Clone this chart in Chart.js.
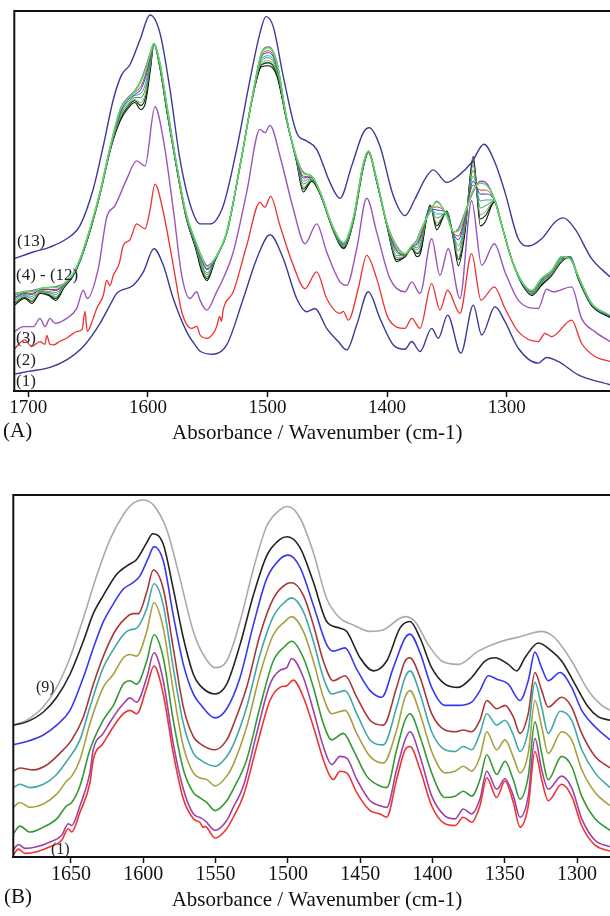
<!DOCTYPE html>
<html><head><meta charset="utf-8">
<script src="https://cdn.jsdelivr.net/npm/chart.js@4/dist/chart.umd.min.js"></script>
<style>
html,body{margin:0;padding:0;background:#fff;overflow:hidden;width:610px;height:916px;position:relative;}
#wa{position:absolute;left:0;top:0;}
#wb{position:absolute;left:0;top:465px;}
</style></head><body>
<div id="wa"><canvas id="ca" width="640" height="450"></canvas></div>
<div id="wb"><canvas id="cb" width="640" height="451"></canvas></div>
<script>
// ---------- Panel A (absorbance in arbitrary units x100, vs wavenumber cm-1) ----------
const TICKS_A = [1700, 1600, 1500, 1400, 1300];
const A1 = [[1711.7,17],[1700,19.7],[1681.9,23.7],[1667.9,31.3],[1654,44.7],[1640,68],[1631.7,86.3],[1626.1,98],[1612.2,106.3],[1603.8,119.7],[1594.9,143],[1587.1,126.3],[1578.8,93],[1567.6,59.7],[1559.2,44],[1556.4,40],[1545.3,37],[1534.1,46.3],[1520.2,93],[1509,133],[1497.9,157],[1486.8,133],[1475.6,93],[1467.2,79.7],[1460.3,83],[1450.5,63],[1440.8,49.7],[1433.8,41.3],[1425.4,66.3],[1415.7,99.7],[1406,73],[1394.8,46.3],[1385,42],[1379.4,49.7],[1372.5,39.7],[1362.7,63],[1357.2,53],[1349.4,76.3],[1338.3,38],[1327.9,86.3],[1320.9,56.3],[1309.8,84.7],[1301.4,69.7],[1290.3,43],[1273.6,28],[1266.6,33.7],[1256.9,29.7],[1240.2,16.3],[1213.6,6.3]];
const A2 = [[1711.7,42.3],[1702.8,51.3],[1697.2,44.7],[1690.2,49.7],[1686,47],[1684.6,56],[1681.9,47],[1679.1,46.3],[1673.5,50],[1667.9,53],[1659.5,59.7],[1655,62],[1652.6,80],[1650.7,60],[1646,72],[1642.8,83],[1637.3,96],[1634.4,111.3],[1631.7,106],[1628.9,116.3],[1624,128],[1620.6,146.3],[1615,152],[1609.4,168],[1602.4,163],[1598.2,182],[1594.1,208],[1587.1,179.7],[1578.8,126.3],[1571.7,79.7],[1563.4,63],[1559,65],[1556.4,56.3],[1550.8,53],[1545.3,58],[1542.5,64.7],[1540,75],[1538.5,70],[1537,82],[1528.6,99.7],[1517.4,146.3],[1506.3,189.7],[1502.1,184.7],[1497.4,195.7],[1489.6,166.3],[1478.4,126.3],[1468.6,103],[1458.9,119.7],[1450.5,93],[1439.4,78],[1436.6,80],[1432.4,71.3],[1424.1,103],[1417,136.3],[1408.7,113],[1399,73],[1385,63],[1379.4,73],[1372.5,63],[1362.7,108],[1355.8,81.3],[1349.4,101.3],[1339.1,78],[1329.3,138],[1321.5,91.3],[1310.4,104.7],[1301.4,83],[1290.3,59.7],[1273.6,49.7],[1268,58],[1262.4,54.7],[1245.7,71.3],[1237.4,48],[1226.3,34.7],[1213.6,29.7]];
const A3 = [[1711.7,59.7],[1704.2,64.7],[1695.8,64.7],[1690.2,73],[1686,64.7],[1681.9,73],[1677.7,68],[1667.9,73],[1659.5,83],[1654,101.3],[1650.7,93],[1641.5,123],[1634.4,174.7],[1627.5,186.3],[1617.7,213],[1609.4,231.3],[1602.4,226.3],[1594.1,285.7],[1587.1,253],[1578.8,183],[1571.7,116.3],[1564.8,93],[1559.2,99.7],[1556.4,91.3],[1550.8,81.3],[1542.5,99.7],[1537,113],[1528.6,139.7],[1517.4,199.7],[1506.3,263],[1502.1,259.7],[1497.9,267],[1489.6,236.3],[1478.4,183],[1468.6,148],[1458.9,168],[1450.5,139.7],[1439.4,109.7],[1433.8,106.3],[1425.4,143],[1417,193.7],[1408.7,159.7],[1397.6,113],[1385,99.7],[1379.4,109.7],[1372.5,98],[1362.7,153],[1355.8,116.3],[1348.9,143],[1339.1,93],[1329.3,191.3],[1320.9,126.3],[1310.4,148],[1301.4,119.7],[1290.3,91.3],[1273.6,83],[1266.6,102.3],[1261,99.7],[1245.7,104.7],[1237.4,73],[1226.3,59.7],[1213.6,49.7]];
const A13 = [[1711.7,133],[1695.8,139.7],[1681.9,144.7],[1667.9,153],[1656.8,166.3],[1645.7,203],[1637.3,246.3],[1628.9,293],[1621.9,318],[1615,328],[1606.6,353],[1598.2,378],[1589.9,359.7],[1581.5,303],[1573.2,233],[1564.8,188],[1556.4,168],[1548.1,168],[1537,186.3],[1525.8,243],[1514.6,313],[1506.3,359.7],[1501.3,376.3],[1495.2,366.3],[1486.8,316.3],[1475.6,259.7],[1467.2,251.3],[1458.9,243],[1447.8,209.7],[1439.4,193.7],[1429.6,226.3],[1419.9,259.7],[1414.9,264.7],[1406,246.3],[1394.8,196.3],[1385,176.3],[1376.7,193],[1368.3,213],[1361.4,222.3],[1350.2,209.7],[1340.5,216.3],[1329.3,229.7],[1319,248],[1309.8,229.7],[1301.4,199.7],[1290.3,153],[1281.9,145.7],[1270.8,153],[1259.7,169.7],[1252.7,174],[1242.9,163],[1229,133],[1213.6,114.7]];
// bundle (4)-(12), shared wavenumber grid
const WN_BUNDLE = [1711.7,1703,1697,1690,1683,1677,1670,1663,1656,1648,1640,1631,1623,1616,1611,1606,1602,1598,1595,1590,1584,1576,1568,1560,1555,1550.5,1544,1534,1523,1512,1505,1499,1492,1484,1476,1470,1463,1456,1445,1436.5,1428,1420,1415.6,1409,1400,1392,1385,1379.4,1375,1372.5,1364,1358.5,1350,1344.6,1340.4,1334.8,1328,1322,1318,1310.3,1304,1296,1287.4,1279,1271,1262.4,1254,1247,1240,1229,1213.6];
const A4  = [98,100,101,103,104,105,108,117,135,165,200,248,284,296,302,312,325,340,349,330,286,228,178,150,135,126,133,160,226,300,340,346,330,274,236,220,216,200,164,149,175,228,241,214,168,146,138,146,152,160,180,191,176,160,163,180,200,211,210,193,166,133,110,101,113,121,135,133,115,88,76];
const A5  = [97,100,100,103,104,104,108,117,135,165,200,248,283,295,301,311,323,339,349,330,286,228,178,150,134,125,133,160,226,300,339,345,329,274,236,219,216,200,164,149,175,228,241,214,168,145,138,146,151,159,181,190,176,160,161,179,202,209,208,193,166,133,110,101,113,121,135,133,115,88,76];
const A6  = [96,99,98,102,102,102,107,117,135,164,200,247,282,294,300,306,318,336,349,329,285,227,177,149,132,123,133,160,226,300,337,342,327,274,235,216,215,200,163,148,174,227,241,214,167,143,137,145,149,155,182,185,177,159,156,176,207,202,202,192,166,133,110,100,112,120,134,133,114,88,76];
const A7  = [94,98,97,102,102,101,107,116,134,164,199,247,280,293,298,303,315,335,349,329,284,227,177,148,131,122,132,160,226,299,336,340,326,273,235,214,215,199,163,147,174,227,241,213,167,141,137,145,147,153,183,182,178,158,152,174,211,198,198,192,166,133,109,100,111,120,134,134,114,87,75];
const A8  = [93,97,95,101,100,99,106,116,134,164,199,246,279,291,297,299,309,332,349,328,283,226,176,147,128,119,132,160,226,299,334,337,324,273,234,211,214,199,163,146,173,226,241,213,167,139,137,145,144,150,184,178,178,157,146,171,216,191,192,192,166,133,109,99,110,119,133,134,114,87,75];
const A9  = [91,96,93,100,99,97,106,116,134,163,199,246,277,289,295,295,304,329,349,327,282,226,176,146,126,117,132,159,226,299,332,335,322,273,234,208,213,199,162,145,173,226,240,213,166,136,136,144,142,146,184,174,179,156,141,168,222,184,186,191,166,133,109,98,109,118,132,134,113,87,75];
const A10 = [89,95,91,99,98,95,105,116,133,163,198,245,275,288,293,290,299,327,349,326,282,225,175,145,124,115,132,159,226,299,330,332,320,273,233,205,212,199,162,145,172,225,240,213,166,134,136,144,139,143,185,169,180,155,135,165,227,177,180,191,166,133,109,97,108,117,131,135,113,87,75];
const A11 = [88,94,90,99,97,93,105,115,133,163,198,245,274,287,292,287,295,325,349,326,281,225,175,144,122,113,131,159,226,298,328,330,318,272,233,203,212,198,162,144,172,225,240,212,166,132,135,144,138,140,186,166,180,154,132,163,231,173,176,190,166,133,108,97,107,117,131,135,113,86,74];
const A12 = [86,93,88,98,96,91,104,115,133,162,198,244,272,285,290,283,290,322,349,325,280,224,174,143,120,111,131,159,226,298,326,327,316,272,232,200,211,198,161,143,171,224,240,212,165,130,135,143,135,137,187,162,181,153,126,160,236,166,170,190,166,133,108,96,106,116,130,135,112,86,74];

// ---------- Panel B ----------
const TICKS_B = [1650, 1600, 1550, 1500, 1450, 1400, 1350, 1300];
const B1 = [[1689.9,2],[1686.4,8],[1681.8,3.7],[1673.7,5.3],[1664.5,10.3],[1656.4,17],[1651.9,28.7],[1649.5,25.3],[1643.8,45.3],[1636.9,75.3],[1634.6,98.7],[1627.7,115.3],[1620.7,132],[1613.8,145.3],[1609.2,148.7],[1604.6,145.3],[1597.6,172],[1592.6,193.7],[1586.2,165.3],[1579.3,105.3],[1572.3,58.7],[1565.4,38.7],[1560.8,35],[1558.5,30],[1557.3,31],[1550.4,19.3],[1542.3,28.7],[1537.8,40.3],[1530.8,62],[1521.6,112],[1512.4,158.7],[1505.5,172],[1500.8,173.7],[1496.3,179.3],[1489.3,162],[1482.4,132],[1475.5,98.7],[1470.9,82],[1468.6,78.7],[1464,87],[1459.3,85.3],[1452.4,65.3],[1443.2,47],[1436.3,43.7],[1431.7,40.3],[1424.8,78.7],[1419,108.7],[1415.6,112],[1408.6,88.7],[1400.6,52],[1391.4,33.7],[1384.4,32],[1378.7,40.3],[1372.9,35.3],[1367.2,52],[1362.5,80.3],[1355.6,60.3],[1349.9,77],[1344.1,55.3],[1339.5,30.3],[1333.8,51.7],[1329.2,107],[1324.5,78.3],[1320,57],[1310.7,73.7],[1303.8,61.7],[1296.8,31.7],[1287.6,12],[1277.3,6]];
const B2 = [[1689.9,7],[1686.4,12.7],[1681.8,8.7],[1673.7,10.3],[1664.5,15.3],[1656.4,22],[1651.9,33.7],[1649.5,32],[1643.8,52],[1636.9,85.3],[1634.6,108.7],[1627.7,125.3],[1620.7,142],[1613.8,155.3],[1609.2,161.3],[1604.6,157],[1597.6,182],[1592.6,207],[1586.2,178.7],[1579.3,115.3],[1572.3,68.7],[1565.4,43.7],[1560.8,40],[1557.3,37],[1550.4,27],[1542.3,37],[1537.8,50.3],[1530.8,72],[1521.6,125.3],[1512.4,175.3],[1505.5,189.3],[1500.8,192],[1497.4,201.3],[1489.3,182],[1482.4,148.7],[1475.5,112],[1469.7,93.7],[1464,102],[1459.3,100.3],[1452.4,78.7],[1443.2,57],[1436.3,52],[1431.7,50.3],[1424.8,88.7],[1419,118.7],[1415.6,127],[1408.6,102],[1400.6,62],[1391.4,41.7],[1384.4,38.7],[1378.7,48.7],[1372.9,43.7],[1367.2,58.7],[1362.5,87],[1355.6,68.7],[1349.9,79.3],[1344.1,62],[1339.5,40.3],[1333.8,61.7],[1329.2,120.3],[1324.5,88.3],[1320,68.7],[1310.7,82],[1303.8,70.3],[1296.8,38.7],[1287.6,17],[1277.3,10.3]];
const B3 = [[1689.9,23.7],[1685.3,31.3],[1678.4,25.3],[1669.1,30.3],[1659.9,38.7],[1653,52],[1649.5,55.3],[1643.8,72],[1636.9,108.7],[1627.7,138.7],[1620.7,153.7],[1613.8,175.3],[1609.2,178.7],[1604.6,175.3],[1597.6,198.7],[1592.6,225.3],[1586.2,202],[1579.3,138.7],[1572.3,88.7],[1565.4,65.3],[1560.8,60],[1556.2,55.3],[1550.4,47],[1542.3,57],[1537.8,68.7],[1528.5,98.7],[1519.3,152],[1510.1,198.7],[1502,213.7],[1497.4,218.7],[1489.3,202],[1482.4,172],[1475.5,135.3],[1469.7,118.7],[1461.7,125.3],[1454.8,108.7],[1445.5,82],[1436.3,72],[1431.7,70.3],[1424.8,108.7],[1419,138.7],[1415.6,145.3],[1408.6,122],[1400.6,85.3],[1391.4,60.3],[1384.4,61.7],[1378.7,66.7],[1372.9,61.7],[1367.2,78.3],[1362.5,103.7],[1355.6,83.7],[1349.9,97],[1344.1,78.3],[1339.5,58.7],[1333.8,81.7],[1329.2,137],[1324.5,105],[1320,78.3],[1310.7,102],[1303.8,92],[1296.8,61.7],[1287.6,38.7],[1277.3,27]];
const B4 = [[1689.9,50.3],[1685.3,55.3],[1678.4,50.3],[1669.1,53.7],[1659.9,63.7],[1653,77],[1649.5,82],[1643.8,98.7],[1636.9,135.3],[1627.7,172],[1620.7,185.3],[1613.8,202],[1609.2,205.3],[1604.6,203.7],[1597.6,228.7],[1592.6,257.7],[1586.2,232],[1579.3,168.7],[1572.3,112],[1565.4,85.3],[1560.8,80],[1556.2,78.7],[1550.4,72],[1542.3,82],[1537.8,93.7],[1528.5,132],[1519.3,185.3],[1510.1,225.3],[1502,238.7],[1497.4,243.7],[1489.3,228.7],[1482.4,198.7],[1475.5,162],[1469.7,145.3],[1460.5,148.7],[1452.4,125.3],[1443.2,102],[1434,95.3],[1424.8,128.7],[1419,162],[1415.6,168.7],[1408.6,145.3],[1400.6,107],[1391.4,85.3],[1384.4,87],[1378.7,92],[1372.9,87],[1367.2,101.3],[1362.5,127],[1355.6,108.7],[1349.9,118.7],[1344.1,101.3],[1339.5,85.3],[1333.8,105],[1329.2,158.7],[1324.5,132],[1320,105],[1310.7,127],[1303.8,118.7],[1296.8,88.7],[1287.6,65.3],[1277.3,52]];
const B5 = [[1689.9,70.3],[1685.3,73.7],[1678.4,70.3],[1669.1,73.7],[1659.9,83.7],[1653,97],[1643.8,118.7],[1636.9,152],[1627.7,192],[1620.7,210.3],[1613.8,225.3],[1609.2,230.3],[1604.6,232],[1597.6,252],[1592.6,277],[1586.2,255.3],[1579.3,192],[1572.3,135.3],[1565.4,105.3],[1560.8,98.7],[1550.4,92],[1542.3,102],[1537.8,113.7],[1528.5,152],[1519.3,205.3],[1510.1,243.7],[1502,258.7],[1497.4,262.7],[1489.3,248.7],[1482.4,218.7],[1475.5,182],[1469.7,165.3],[1460.5,168.7],[1452.4,145.3],[1443.2,118.7],[1434,113.7],[1424.8,152],[1419,182],[1415.6,188.7],[1408.6,165.3],[1400.6,127],[1391.4,108.7],[1384.4,107],[1378.7,112],[1372.9,108.7],[1367.2,125.3],[1362.5,145.3],[1355.6,133.7],[1349.9,138.7],[1344.1,123.7],[1339.5,107],[1333.8,128.3],[1329.2,177],[1324.5,152],[1320,125.3],[1311.8,147.7],[1303.8,138.7],[1296.8,108.7],[1287.6,85.3],[1277.3,70.3]];
const B6 = [[1689.9,87],[1685.3,90.3],[1676.1,88.3],[1666.8,93.3],[1657.6,105.3],[1649.5,118.7],[1641.5,141.7],[1634.6,175],[1625.3,211.7],[1618.4,231.7],[1611.5,243.3],[1606.9,246.7],[1603.5,246.7],[1597.6,268.7],[1593.1,291],[1586.2,272],[1579.3,212],[1572.3,152],[1565.4,122],[1560.8,115],[1550.4,108.7],[1542.3,118.7],[1537.8,133.7],[1528.5,172],[1519.3,225.3],[1510.1,262],[1500.8,277],[1497.4,278],[1489.3,265.3],[1482.4,235.3],[1475.5,198.7],[1468.6,178.7],[1460.5,183.7],[1452.4,162],[1443.2,138.7],[1434,133.7],[1424.8,172],[1419,198.7],[1415.6,202],[1408.6,182],[1400.6,145.3],[1391.4,128.7],[1384.4,127],[1378.7,128.7],[1372.9,127],[1367.2,138.7],[1362.5,158.7],[1355.6,150.3],[1349.9,153.7],[1344.1,142],[1339.5,125.3],[1333.8,145.3],[1329.2,187],[1324.5,168.7],[1320,152],[1310.7,162],[1303.8,152],[1296.8,125.3],[1287.6,102],[1277.3,90.3]];
const B7 = [[1689.9,113.7],[1680.6,117],[1669.1,123.7],[1659.9,133.7],[1650.7,148.7],[1641.5,182],[1634.6,211.7],[1627.7,238.3],[1620.7,256.7],[1613.8,271.7],[1606.9,278.3],[1602.3,285],[1596.5,303.3],[1592.6,314.7],[1586.2,300.3],[1579.3,245.3],[1572.3,195.3],[1565.4,165.3],[1560.8,155.3],[1550.4,141],[1542.3,150.3],[1533.1,182],[1523.9,235.3],[1514.7,282],[1505.5,302],[1499.7,306],[1491.6,293.7],[1482.4,255.3],[1473.2,215.3],[1468.6,208.7],[1460.5,212],[1452.4,190.3],[1443.2,168.7],[1435.1,162],[1427.1,192],[1419,222],[1415.6,226],[1408.6,207],[1400.6,172],[1391.4,153.7],[1382.2,153.7],[1372.9,157],[1367.2,168.7],[1361.4,183.7],[1355.6,180.3],[1347.6,175.3],[1339.5,158.7],[1333.8,178.7],[1329.2,207.7],[1324.5,191.7],[1320,178.7],[1311.8,187],[1303.8,172],[1296.8,148.7],[1287.6,132],[1277.3,118.7]];
const B8 = [[1689.9,133.7],[1680.6,137],[1669.1,147],[1659.9,162],[1650.7,185.3],[1641.5,218.7],[1634.6,246.7],[1627.7,265],[1618.4,286.7],[1611.5,295],[1604.6,301.7],[1597.6,318.7],[1593.5,327.7],[1586.2,317],[1579.3,272],[1572.3,222],[1565.4,185.3],[1560.8,174],[1550.4,165.3],[1542.3,175.3],[1533.1,215.3],[1523.9,265.3],[1514.7,305.3],[1505.5,322],[1500.4,324.7],[1491.6,313.7],[1482.4,278.7],[1473.2,238.7],[1464,232],[1459.3,228.7],[1450.1,202],[1440.9,188.7],[1431.7,198.7],[1422.5,232],[1415.6,238.7],[1408.6,222],[1400.6,192],[1391.4,175.3],[1382.2,172],[1372.9,182],[1363.7,198.7],[1356.8,202],[1347.6,195.3],[1341.8,188.7],[1336.1,202],[1326.8,217],[1317.6,208.7],[1310.7,198.7],[1301.5,175.3],[1292.3,152],[1285.3,142],[1277.3,138.7]];
const B9 = [[1689.9,133.7],[1680.6,138.7],[1669.1,152.3],[1659.9,172],[1650.7,202],[1641.5,242],[1632.2,285.3],[1623,322],[1613.8,347],[1606.9,358.7],[1600.4,362],[1593.1,357],[1583.8,332],[1574.6,282],[1565.4,228.7],[1558.5,205.3],[1550.4,192],[1542.3,198.7],[1533.1,238.7],[1523.9,292],[1514.7,335.3],[1505.5,352],[1500.1,355.3],[1491.6,343.7],[1482.4,308.7],[1473.2,262],[1464,242],[1454.8,235.3],[1443.2,228.7],[1434,230.3],[1422.5,242],[1419,243.7],[1412.1,238.7],[1402.9,215.3],[1393.6,198.7],[1382.2,195.3],[1368.3,208.7],[1352.2,218.7],[1338.4,223.7],[1324.5,228.7],[1315.3,222],[1303.8,198.7],[1292.3,168.7],[1283,153.7],[1277.3,148.7]];

const SERIF = "'Liberation Serif', 'Times New Roman', serif";
const bundle = v => WN_BUNDLE.map((w, i) => [w, v[i]]);

const framePlugin = {
  id: 'frameLabels',
  afterDatasetsDraw(chart, args, o) {
    const {ctx, chartArea: a, scales: {x, y}} = chart;
    ctx.save();
    ctx.strokeStyle = '#111'; ctx.lineWidth = 2;
    ctx.beginPath();
    ctx.moveTo(a.right + 10, a.top); ctx.lineTo(a.left, a.top); ctx.lineTo(a.left, a.bottom);
    ctx.stroke();
    ctx.fillStyle = '#222'; ctx.textBaseline = 'middle'; ctx.textAlign = 'left';
    ctx.font = o.labelFont;
    for (const [t, wx, vy] of o.labels) ctx.fillText(t, x.getPixelForValue(wx), y.getPixelForValue(vy));
    ctx.font = o.letterFont; ctx.fillStyle = '#111';
    ctx.fillText(o.letter, o.letterX, a.bottom + o.letterDy);
    ctx.restore();
  }
};

function ds(data, color, w) {
  return {data, borderColor: color, borderWidth: w, pointRadius: 0, fill: false,
          cubicInterpolationMode: 'monotone'};
}
function xScale(min, max, ticks, tickSize) {
  return {
    type: 'linear', reverse: true, min, max,
    afterBuildTicks: s => { s.ticks = ticks.map(v => ({value: v})); },
    ticks: {callback: v => String(v), autoSkip: false, maxRotation: 0, padding: 2, color: '#111',
            font: {family: SERIF, size: tickSize, lineHeight: 1}},
    grid: {drawOnChartArea: false, drawTicks: true, tickLength: 6, tickWidth: 1.5, tickColor: '#111'},
    border: {display: true, color: '#111', width: 2},
    title: {display: true, text: 'Absorbance / Wavenumber (cm-1)', color: '#111',
            font: {family: SERIF, size: 21, lineHeight: 1}, padding: {top: 3, bottom: 0}}
  };
}

new Chart(document.getElementById('ca'), {
  type: 'line',
  data: {datasets: [
    ds(A1, '#3a3a98', 1.4), ds(A2, '#ee3030', 1.3), ds(A3, '#9a55b8', 1.4), ds(A13, '#3a3a98', 1.4),
    ds(bundle(A5), '#55e055', 1.6), ds(bundle(A4), '#9933ee', 1.2), ds(bundle(A6), '#cc3333', 1),
    ds(bundle(A7), '#3333cc', 1), ds(bundle(A8), '#33a0a0', 1), ds(bundle(A9), '#33a033', 1),
    ds(bundle(A10), '#909090', 1), ds(bundle(A12), '#111111', 1.1), ds(bundle(A11), '#006000', 1.3)
  ]},
  options: {
    responsive: false, animation: false, devicePixelRatio: 1,
    layout: {padding: {left: 14.3, right: 19.7, top: 11, bottom: 6}},
    scales: {x: xScale(1205, 1711.7, TICKS_A, 19), y: {display: false, min: 0, max: 382}},
    plugins: {legend: {display: false}, tooltip: {enabled: false},
      frameLabels: {labelFont: '17px ' + SERIF, letterFont: '21px ' + SERIF, letter: '(A)', letterX: 3, letterDy: 40,
        labels: [['(13)', 1709.4, 150], ['(4) - (12)', 1710.3, 116], ['(3)', 1710.3, 53], ['(2)', 1710.3, 31], ['(1)', 1710.3, 10]]}}
  },
  plugins: [framePlugin]
});

new Chart(document.getElementById('cb'), {
  type: 'line',
  data: {datasets: [
    ds(B1, '#ee3333', 1.6), ds(B2, '#a040a8', 1.6), ds(B3, '#339933', 1.6), ds(B4, '#a8a040', 1.6),
    ds(B5, '#40a8a8', 1.6), ds(B6, '#a83838', 1.6), ds(B7, '#3838ee', 1.6), ds(B8, '#222222', 1.6),
    ds(B9, '#aaaaaa', 1.6)
  ]},
  options: {
    responsive: false, animation: false, devicePixelRatio: 1,
    layout: {padding: {left: 13.3, right: 19.5, top: 30, bottom: 5}},
    scales: {x: xScale(1270, 1689.9, TICKS_B, 20), y: {display: false, min: 0, max: 367}},
    plugins: {legend: {display: false}, tooltip: {enabled: false},
      frameLabels: {labelFont: '16px ' + SERIF, letterFont: '21px ' + SERIF, letter: '(B)', letterX: 4, letterDy: 40,
        labels: [['(9)', 1674.2, 172], ['(1)', 1663.8, 7]]}}
  },
  plugins: [framePlugin]
});
</script>
</body></html>
